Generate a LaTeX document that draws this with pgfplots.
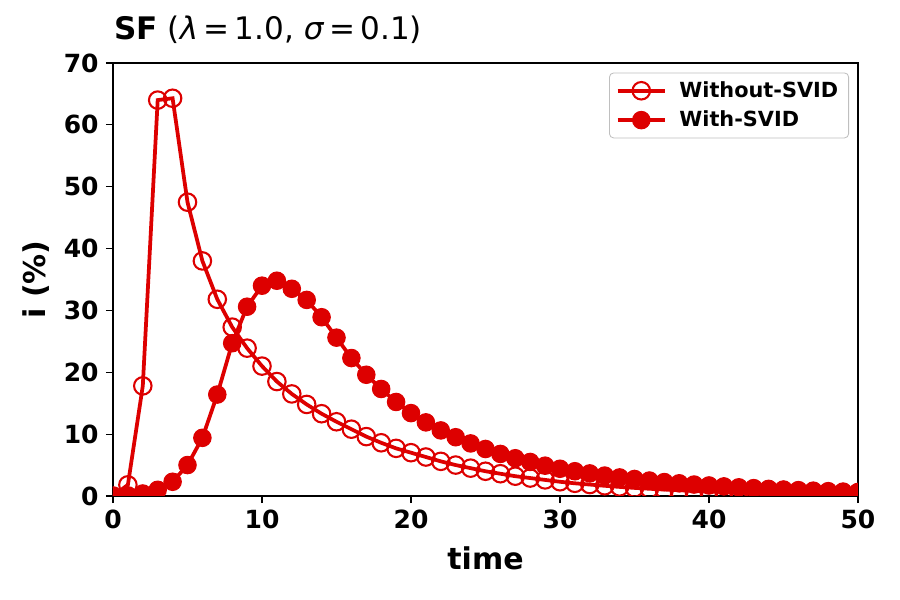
\documentclass[border=0pt]{standalone}
\usepackage{pgfplots}
\pgfplotsset{compat=1.18}
\usepackage{pgfplotstable}
\usepackage{fontspec}
\setmainfont{DejaVu Sans}
\definecolor{myred}{RGB}{221,0,0}
\pgfplotstableread{
t v
0 0
1 1.8
2 17.8
3 64.0
4 64.3
5 47.5
6 38.0
7 31.8
8 27.3
9 23.9
10 21.0
11 18.5
12 16.5
13 14.8
14 13.3
15 12.0
16 10.8
17 9.6
18 8.6
19 7.7
20 7.0
21 6.3
22 5.6
23 5.0
24 4.5
25 4.0
26 3.6
27 3.2
28 2.9
29 2.6
30 2.3
31 2.05
32 1.85
33 1.65
34 1.47
35 1.31
36 1.17
37 1.04
38 0.93
39 0.83
40 0.74
41 0.66
42 0.59
43 0.52
44 0.47
45 0.42
46 0.37
47 0.33
48 0.29
49 0.26
50 0.23
}\without
\pgfplotstableread{
t v
0 0
1 0.1
2 0.4
3 1.0
4 2.3
5 5.0
6 9.4
7 16.4
8 24.7
9 30.6
10 34.0
11 34.8
12 33.5
13 31.7
14 28.9
15 25.6
16 22.3
17 19.6
18 17.3
19 15.2
20 13.4
21 11.9
22 10.6
23 9.5
24 8.5
25 7.6
26 6.8
27 6.1
28 5.5
29 4.9
30 4.4
31 4.0
32 3.65
33 3.3
34 3.0
35 2.75
36 2.5
37 2.25
38 2.05
39 1.85
40 1.7
41 1.55
42 1.4
43 1.27
44 1.15
45 1.05
46 0.95
47 0.86
48 0.78
49 0.71
50 0.65
}\with
\begin{document}
\begin{tikzpicture}
\useasboundingbox (-54.24pt,-49.92pt) rectangle (377.76pt,238.08pt);
\begin{axis}[
  scale only axis,
  width=357.6pt, height=207.84pt,
  xmin=0, xmax=50, ymin=0, ymax=70,
  xtick={0,10,20,30,40,50},
  ytick={0,10,20,30,40,50,60,70},
  tick align=outside,
  major tick length=3.4pt,
  xtick pos=bottom, ytick pos=left,
  axis line style={line width=0.7pt},
  every tick/.style={black, line width=0.6pt},
  /pgf/number format/assume math mode=true,
  tick label style={font=\bfseries\fontsize{12}{14}\selectfont},
  xlabel={time}, ylabel={i (\%)},
  every axis x label/.style={at={(axis description cs:0.5,-0.143)}, anchor=center, font=\bfseries\fontsize{14.4}{17}\selectfont},
  every axis y label/.style={at={(axis description cs:-0.103,0.5)}, anchor=center, rotate=90, font=\bfseries\fontsize{14.4}{17}\selectfont},
  legend style={at={(axis description cs:0.988,0.978)}, anchor=north east,
    draw=black!25, rounded corners=2pt, fill=white,
    font=\bfseries\fontsize{10}{12.3}\selectfont,
    inner xsep=3pt, inner ysep=2pt, row sep=1pt},
  legend cell align=left,
  legend image code/.code={\draw[mark repeat=2,mark phase=2] plot coordinates {(0cm,0cm) (0.4cm,0cm) (0.8cm,0cm)};},
  clip=true,
  clip marker paths=true,
]
\addplot[myred, line width=1.8pt, mark=o, mark size=4.2pt, mark options={line width=1pt}] table[x=t,y=v] {\without};
\addlegendentry{\hspace*{4pt}Without-SVID}
\addplot[myred, line width=1.8pt, mark=*, mark size=4.2pt, mark options={fill=myred, draw=myred, line width=0.5pt}] table[x=t,y=v] {\with};
\addlegendentry{\hspace*{4pt}With-SVID}
\end{axis}
\node[anchor=base west, inner sep=0pt] at (0.5pt,219.2pt) {\fontsize{14.9}{17}\selectfont\textbf{SF} (\textit{λ}\,=\,1.0, \textit{σ}\,=\,0.1)};
\end{tikzpicture}
\end{document}
